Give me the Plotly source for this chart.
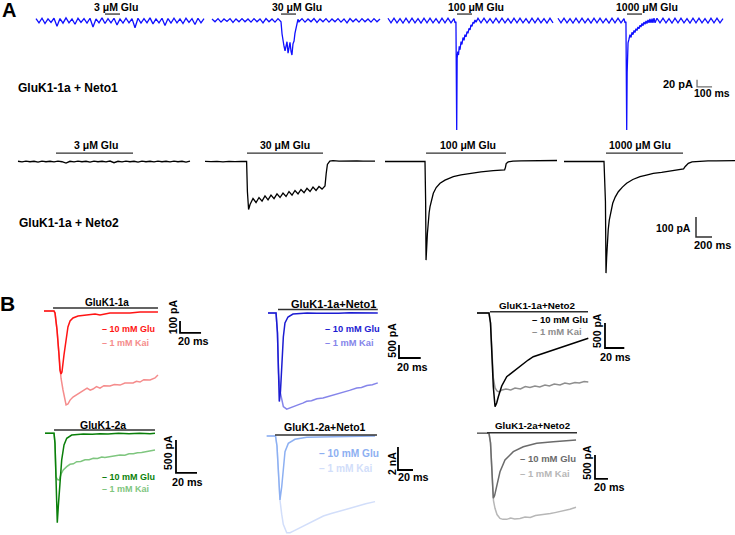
import plotly.graph_objects as go

W, H = 735, 535
FONT = "Liberation Sans, Arial, sans-serif"

# ======================= DATA =======================
# ---- Panel A, GluK1-1a + Neto1 (time in ms, current in pA) ----
A_LABELS = ["3 μM Glu", "30 μM Glu", "100 μM Glu", "1000 μM Glu"]
A_TOP_APP = [460, 560]                     # glutamate application (ms)
A_TOP_SCALE = [100, 20]                    # 100 ms, 20 pA

A1_DT = 20
A1_I = [4, -8, 5, -10, 3, -7, 5, -18, 4, -9, 6, -8, 3, -12, 5, -7, 4, -9, 5, -20, 3, -8, 6, -10, 4, -8, 5,
        -14, 3, -9, 5, -8, 4, -22, 5, -9, 4, -8, 6, -11, 3, -8, 5, -16, 4, -9, 5, -8, 3, -10, 5, -7, 4, -13,
        5, -8, 4]

A2_T = [0, 20, 40, 60, 80, 100, 120, 140, 160, 180, 200, 220, 240, 260, 280, 300, 320, 340, 360, 380, 400,
        420, 440,
        460, 467, 473, 480, 487, 493, 500, 507, 513, 520, 527, 533, 540, 547, 553, 560, 567, 573,
        580, 600, 620, 640, 660, 680, 700, 720, 740, 760, 780, 800, 820, 840, 860, 880, 900, 920, 940,
        960, 980, 1000, 1020, 1040, 1060, 1080, 1100, 1120]
A2_I = [3, -5, 4, -6, 3, -4, 4, -7, 3, -5, 4, -5, 3, -6, 4, -5, 3, -8, 4, -5, 3, -6, 4,
        -5, -40, -60, -75, -88, -70, -62, -95, -72, -64, -90, -100, -68, -60, -38, -20, -8, 2,
        -5, 4, -6, 3, -5, 4, -7, 3, -5, 4, -6, 3, -5, 4, -6, 3, -8, 4, -5, 3, -6, 4, -5, 3, -6, 4, -5, 3]

A3_T = [0, 20, 40, 60, 80, 100, 120, 140, 160, 180, 200, 220, 240, 260, 280, 300, 320, 340, 360, 380, 400,
        420, 440,
        447, 453, 456, 458, 461, 465, 470, 475, 480, 487, 493, 500, 507, 513, 520, 527, 533, 540, 547, 553,
        560, 567, 573, 580, 587,
        600, 620, 640, 660, 680, 700, 720, 740, 760, 780, 800, 820, 840, 860, 880, 900, 920, 940, 960,
        980, 1000, 1020, 1040, 1060, 1080, 1100]
A3_I = [5, -8, 5, -8, 4, -9, 5, -8, 5, -8, 4, -9, 5, -8, 5, -8, 4, -9, 5, -8, 5, -8, 4,
        -8, -5, -200, -314, -110, -90, -100, -75, -85, -62, -70, -50, -58, -42, -48, -33, -38, -24, -28,
        -14, -18, -6, -10, 0, -6,
        5, -8, 5, -8, 4, -9, 5, -8, 5, -8, 4, -9, 5, -8, 5, -8, 4, -9, 5, -8, 5, -8, 4, -9, 5, -8]

A4_T = [0, 20, 40, 60, 80, 100, 120, 140, 160, 180, 200, 220, 240, 260, 280, 300, 320, 340, 360, 380, 400,
        420, 440,
        447, 453, 456, 458, 461, 463, 467, 473, 480, 487, 493, 500, 507, 513, 520, 527, 533, 540, 547, 553,
        560, 567, 573, 580, 587, 593, 600, 607, 613, 620, 627, 633, 640, 647,
        660, 680, 700, 720, 740, 760, 780, 800, 820, 840, 860, 880, 900, 920, 940, 960, 980, 1000, 1020,
        1040, 1060, 1080, 1100]
A4_I = [5, -8, 5, -8, 4, -9, 5, -8, 5, -8, 4, -9, 5, -8, 5, -8, 4, -9, 5, -8, 5, -8, 4,
        -8, -5, -200, -314, -150, -110, -65, -55, -42, -50, -35, -42, -30, -36, -25, -30, -20, -25, -15,
        -20, -10, -16, -6, -12, -3, -10, 0, -8, 3, -8, 4, -8, 5, -8,
        5, -8, 5, -8, 4, -9, 5, -8, 5, -8, 4, -9, 5, -8, 5, -8, 4, -9, 5, -8, 5, -8, 4]

# ---- Panel A, GluK1-1a + Neto2 ----
A_BOT_APP = [[475, 1438], [525, 1475], [513, 1513], [525, 1488]]
A_BOT_SCALE = [200, 100]                   # 200 ms, 100 pA

B1_DT = 50
B1_I = [1, -2, 2, -1, 1, -3, 2, -1, 1, -2, 2, -1, -8, 1, -2, 2, -1, 1, -3, 2, -1, 1, -2, 2, -6, 1, -2, 2,
        -1, 1, -3, 2, -1, 1, -2, 2, -1, 1, -2, 2, -1, 1, -3, 2]

B2_T = [0, 75, 150, 225, 300, 375, 450, 520, 530, 545, 563, 600, 638, 675, 713, 750, 788, 825, 863, 900,
        938, 975, 1013, 1050, 1088, 1125, 1163, 1200, 1238, 1275, 1313, 1350, 1388, 1425, 1463, 1500,
        1515, 1530, 1560, 1600, 1675, 1750, 1825, 1900, 1975, 2050, 2125]
B2_I = [1, -1, 1, -2, 1, -1, 1, 0, -150, -240, -215, -185, -205, -180, -198, -172, -192, -168, -186, -162,
        -180, -158, -175, -150, -168, -145, -162, -140, -156, -134, -150, -128, -145, -125, -138, -122,
        -60, -15, 2, 4, 2, 3, 1, 3, 2, 3, 2]

B3_T = [0, 100, 200, 300, 400, 500, 508, 513, 520, 530, 541, 552, 563, 583, 604, 640, 688, 750, 800, 854,
        950, 1063, 1200, 1354, 1450, 1495, 1505, 1515, 1540, 1600, 1700, 1800, 1900, 2000, 2100, 2150]
B3_I = [0, 0, 1, 0, 0, 0, -200, -493, -440, -360, -293, -255, -226, -190, -159, -130, -109, -93, -84, -76,
        -67, -59, -52, -46, -44, -42, -30, -10, -2, 2, 3, 3, 4, 4, 5, 5]

B4_T = [0, 100, 200, 300, 400, 500, 518, 525, 533, 541, 553, 566, 588, 609, 640, 679, 730, 783, 860, 950,
        1030, 1116, 1220, 1325, 1400, 1471, 1495, 1513, 1535, 1554, 1600, 1700, 1800, 1900, 2000, 2100,
        2140]
B4_I = [0, 0, 1, 0, 0, 0, -200, -558, -480, -409, -340, -293, -245, -209, -178, -151, -128, -109, -90, -76,
        -68, -59, -54, -48, -44, -39, -37, -26, -15, -9, -2, 2, 3, 3, 4, 4, 4]

# ---- Panel B: 10 mM Glu vs 1 mM Kai ----
B_TITLES = ["GluK1-1a", "GluK1-1a+Neto1", "GluK1-1a+Neto2",
            "GluK1-2a", "GluK1-2a+Neto1", "GluK1-2a+Neto2"]
B_LEG = ["– 10 mM Glu", "– 1 mM Kai"]
B_SCALE_PA = [100, 500, 500, 500, 2000, 500]
B_SCALE_TXT = ["100 pA", "500 pA", "500 pA", "500 pA", "2 nA", "500 pA"]
B_SCALE_MS = 20
B_APP = [[8.6, 108.5], [9.2, 101], [13.5, 115], [8.6, 104.7], [11.1, 147], [15.4, 154]]

C1_GLU_T = [0, 9.5, 10.5, 12.4, 14.3, 15.2, 16.2, 17.1, 19, 21, 22.8, 24.8, 27.6, 32.4, 39, 44, 48.6,
            53.3, 58, 62.8, 72.4, 81.9, 91.4, 101, 108.5]
C1_GLU_I = [0, 0, -17, -158, -367, -492, -525, -508, -367, -225, -133, -83, -58, -42, -33, -28, -25, -33,
            -25, -17, -17, -17, -8, -8, -8]
C1_KAI_T = [0, 9.5, 10.5, 12.4, 14.3, 16.2, 18.1, 20, 21, 22.8, 24.8, 27.6, 30.5, 34.3, 37, 41, 44, 46.6,
            50, 53.3, 57, 62.8, 67, 72.4, 77, 84.8, 88, 91.4, 95, 101, 105.7, 108.5]
C1_KAI_I = [0, 0, -17, -158, -367, -560, -658, -742, -783, -775, -742, -717, -700, -675, -660, -642, -660,
            -650, -630, -642, -622, -625, -612, -617, -600, -600, -585, -592, -572, -575, -558, -533]

C2_GLU_T = [0, 7.4, 8.7, 9.7, 10.4, 11.5, 12.6, 14.1, 15.6, 18.4, 23, 30, 36, 45, 55, 65, 75, 85, 95, 101]
C2_GLU_I = [0, 0, -770, -2300, -3410, -3000, -1925, -924, -385, -154, -40, -15, 0, -10, 5, -8, 5, -6, 4, 0]
C2_KAI_T = [0, 7.4, 8.7, 9.7, 11, 12.6, 14.1, 17.2, 20.2, 23, 26, 29.4, 32, 35.6, 40, 45, 50.6, 55, 60,
            66.2, 70, 75, 81.6, 86, 91, 96, 101]
C2_KAI_I = [0, 0, -770, -2300, -3000, -3400, -3600, -3700, -3660, -3600, -3560, -3510, -3470, -3400,
            -3380, -3300, -3270, -3220, -3160, -3080, -3060, -2980, -2890, -2870, -2790, -2760, -2690]

C3_GLU_T = [0, 12.4, 14, 15.2, 16.9, 18.7, 20.4, 22.1, 25.6, 30.8, 37.6, 43, 48, 53, 58.3, 65, 72.2, 80,
            89.4, 98, 106.7, 115.3]
C3_GLU_I = [0, 0, -200, -675, -1475, -1874, -1800, -1674, -1460, -1274, -1174, -1090, -1006, -940, -874,
            -830, -774, -725, -674, -615, -560, -506]
C3_KAI_T = [0, 12.4, 14, 15.2, 16.9, 18.7, 20.7, 22.8, 25.9, 30, 35, 39.4, 45, 50, 54.9, 60, 65, 70.4, 75,
            80, 86, 91, 96, 101.5, 106, 111, 115.3]
C3_KAI_I = [0, 0, -200, -675, -1300, -1500, -1560, -1580, -1540, -1520, -1540, -1500, -1520, -1470,
            -1490, -1460, -1480, -1440, -1460, -1420, -1440, -1400, -1420, -1390, -1400, -1370, -1380]

C4_GLU_T = [0, 8.6, 9.5, 10.5, 11.7, 12.7, 13.6, 15.9, 18.1, 20.7, 25.4, 36.5, 45, 52.4, 60, 70, 80, 90,
            100, 104.7]
C4_GLU_I = [0, 0, -150, -660, -1356, -1100, -909, -403, -177, -76, -26, -11, -15, -5, -12, 0, -8, 0, -6, 0]
C4_KAI_T = [0, 8.6, 9.5, 10.5, 11.9, 13.6, 15.2, 17.4, 20.7, 23.8, 27, 30.2, 34, 38.1, 42, 46, 50, 54, 57,
            61.9, 66, 71.4, 76, 80, 84.1, 88, 92, 95.2, 100, 104.7]
C4_KAI_I = [0, 0, -150, -660, -700, -708, -620, -556, -506, -470, -462, -430, -428, -400, -400, -379, -382,
            -360, -368, -353, -345, -330, -332, -310, -310, -295, -292, -280, -270, -252]

C5_GLU_T = [0, 11.7, 13.7, 15.7, 17.7, 20, 22.1, 24.4, 28.8, 37.7, 53.3, 75, 97.7, 120, 144.4]
C5_GLU_I = [0, 0, -870, -3480, -5570, -4440, -2670, -1370, -640, -290, -115, -80, -60, -30, 0]
C5_KAI_T = [0, 11.7, 13.7, 15.7, 17.7, 20, 22.1, 26.7, 31.1, 35.5, 44, 53.3, 64, 75.5, 86, 97.7, 109,
            119.9, 132, 144.4]
C5_KAI_I = [0, 0, -870, -3480, -5570, -6800, -7690, -8410, -8410, -8270, -8000, -7690, -7300, -6960,
            -6750, -6530, -6300, -6090, -5900, -5710]

C6_GLU_T = [0, 18.5, 20.8, 23.1, 25.1, 27, 30.3, 35.4, 43.1, 55.9, 71.3, 91.9, 117.5, 135, 152.5]
C6_GLU_I = [0, 0, -200, -950, -1350, -1300, -1110, -800, -555, -382, -279, -208, -175, -160, -140]
C6_KAI_T = [0, 18.5, 20.8, 23.1, 25.4, 27.7, 30.8, 35.4, 40, 45.7, 52, 58, 66.2, 74, 82, 90, 97, 105,
            113, 120, 127.8, 135, 143, 152.5]
C6_KAI_I = [0, 0, -200, -950, -1400, -1560, -1690, -1770, -1790, -1790, -1760, -1780, -1770, -1740,
            -1750, -1710, -1700, -1690, -1670, -1650, -1630, -1610, -1580, -1540]

# ======================= LAYOUT / STYLE =======================
# per-panel pixel calibration: (x-pixel of t=0, ms per px, y-pixel of 0 pA, pA per px)
CAL = {
    1: (36, 6.667, 20, 2.857), 2: (212, 6.667, 20, 2.857),
    3: (388, 6.667, 20, 2.857), 4: (558, 6.667, 20, 2.857),
    5: (18, 12.5, 161.5, 5.0), 6: (205, 12.5, 161.5, 5.0),
    7: (385, 12.5, 161.5, 5.0), 8: (564, 12.5, 161.5, 5.0),
    9: (44, 0.952, 311, 8.33), 10: (268, 0.92, 313, 38.5),
    11: (477, 1.036, 313, 20.0), 12: (45, 0.952, 433.3, 15.15),
    13: (266.7, 1.333, 436, 87.0), 14: (477, 1.54, 433.3, 20.8),
}

BLUE = "#1010ff"
BAR = "#303030"
C_GLU = ["#ff1414", "#1c1cd2", "#000000", "#0a7f0a", "#8db0f2", "#6b6b6b"]
C_KAI = ["#f58c8c", "#8585ea", "#8e8e8e", "#7fc67f", "#d2defa", "#b7b7b7"]

fig = go.Figure()
layout = dict(width=W, height=H, margin=dict(l=0, r=0, t=0, b=0, pad=0), autosize=False,
              paper_bgcolor="white", plot_bgcolor="rgba(0,0,0,0)", showlegend=False)
for k, (tx, sx, by, sy) in CAL.items():
    xs = "" if k == 1 else str(k)
    layout["xaxis" + xs] = dict(domain=[0, 1], range=[(0 - tx) * sx, (W - tx) * sx], visible=False,
                                fixedrange=True, anchor="y" + xs)
    layout["yaxis" + xs] = dict(domain=[0, 1], range=[-(H - by) * sy, by * sy], visible=False,
                                fixedrange=True, anchor="x" + xs)
fig.update_layout(**layout)

annots = []


def ax(k):
    return ("x", "y") if k == 1 else ("x" + str(k), "y" + str(k))


def line(k, x, y, color, width, **kw):
    xa, ya = ax(k)
    fig.add_trace(go.Scatter(x=x, y=y, mode="lines", xaxis=xa, yaxis=ya, hoverinfo="skip",
                             line=dict(color=color, width=width, shape="linear"), **kw))


def uniform(k, dt, y, color, width):
    xa, ya = ax(k)
    fig.add_trace(go.Scatter(x0=0, dx=dt, y=y, mode="lines", xaxis=xa, yaxis=ya, hoverinfo="skip",
                             line=dict(color=color, width=width)))


def text(k, x, y, s, size, color="black", xanchor="center", angle=0):
    xa, ya = ax(k)
    annots.append(dict(x=x, y=y, xref=xa, yref=ya, text=s, showarrow=False, xanchor=xanchor,
                       yanchor="middle", textangle=angle,
                       font=dict(family=FONT, size=size, color=color, weight="bold")))


def ptext(px, py, s, size, xanchor="center"):
    annots.append(dict(x=px / W, y=1 - py / H, xref="paper", yref="paper", text=s, showarrow=False,
                       xanchor=xanchor, yanchor="middle",
                       font=dict(family=FONT, size=size, color="black", weight="bold")))


def scalebar(k, x0, y0, ms, pa, color="black", width=1.6):
    line(k, [x0, x0, x0 + ms], [y0 + pa, y0, y0], color, width)


# ---- Panel A top (Neto1, blue) ----
uniform(1, A1_DT, A1_I, BLUE, 1.3)
line(2, A2_T, A2_I, BLUE, 1.3)
line(3, A3_T, A3_I, BLUE, 1.3)
line(4, A4_T, A4_I, BLUE, 1.3)
a_top_text_x = [533, 567, 587, 593]
for i, k in enumerate([1, 2, 3, 4]):
    line(k, A_TOP_APP, [17, 17], BAR, 1.3)
    text(k, a_top_text_x[i], 37, A_LABELS[i], 10.5)
scalebar(4, 927, -191, A_TOP_SCALE[0], A_TOP_SCALE[1], "#707070", 1.3)
text(4, 913, -182, "20 pA", 11, xanchor="right")
text(4, 1027, -209, "100 ms", 10.5)

# ---- Panel A bottom (Neto2, black) ----
uniform(5, B1_DT, B1_I, "black", 1.4)
line(6, B2_T, B2_I, "black", 1.3)
line(7, B3_T, B3_I, "black", 1.3)
line(8, B4_T, B4_I, "black", 1.3)
a_bot_text_x = [975, 1000, 1038, 950]
for i, k in enumerate([5, 6, 7, 8]):
    line(k, A_BOT_APP[i], [42, 42], BAR, 1.3)
    text(k, a_bot_text_x[i], 83, A_LABELS[i], 10.5)
scalebar(8, 1650, -378, A_BOT_SCALE[0], A_BOT_SCALE[1], "#303030", 1.5)
text(8, 1612, -333, "100 pA", 10.5, xanchor="right")
text(8, 1850, -418, "200 ms", 11)

# ---- Panel B ----
B_DATA = [(C1_GLU_T, C1_GLU_I, C1_KAI_T, C1_KAI_I), (C2_GLU_T, C2_GLU_I, C2_KAI_T, C2_KAI_I),
          (C3_GLU_T, C3_GLU_I, C3_KAI_T, C3_KAI_I), (C4_GLU_T, C4_GLU_I, C4_KAI_T, C4_KAI_I),
          (C5_GLU_T, C5_GLU_I, C5_KAI_T, C5_KAI_I), (C6_GLU_T, C6_GLU_I, C6_KAI_T, C6_KAI_I)]
bar_y = [25, 135, 26, 50, 87, 12]
title_pos = [(60, 67, 10), (59.8, 346, 11), (62.2, 160, 9.8), (55.2, 126, 10.5), (77.7, 783, 10.5),
             (84.7, 152, 9.7)]
leg_pos = [(53.3, -150, -267, 9), (50.6, -616, -1155, 9.3), (54.9, -120, -360, 9.5),
           (52.4, -662, -844, 9), (67, -1479, -2784, 10.2), (63.1, -514, -826, 9.5)]
sb_pos = [(129.5, -183), (120.5, -1732), (132.6, -700), (124.7, -601), (175, -2957), (181.7, -950)]
sb_vtxt = [(122.5, -47), (113.8, -1040), (124.3, -340), (117.1, -298), (167, -2349), (169.4, -614)]
sb_htxt = [(142, -250), (132.9, -2067), (143.7, -880), (135.2, -737), (195.6, -3567), (203.3, -1117)]

for j in range(6):
    k = 9 + j
    gt, gi, kt, ki = B_DATA[j]
    line(k, kt, ki, C_KAI[j], 1.5)
    line(k, gt, gi, C_GLU[j], 1.5)
    line(k, B_APP[j], [bar_y[j], bar_y[j]], BAR, 1.4)
    tx, ty, ts = title_pos[j]
    text(k, tx, ty, B_TITLES[j], ts)
    lx, gy, kyy, ls = leg_pos[j]
    text(k, lx, gy, B_LEG[0], ls, C_GLU[j], "left")
    text(k, lx, kyy, B_LEG[1], ls, C_KAI[j], "left")
    sx0, sy0 = sb_pos[j]
    scalebar(k, sx0, sy0, B_SCALE_MS, B_SCALE_PA[j], "black", 1.8)
    vx, vy = sb_vtxt[j]
    text(k, vx, vy, B_SCALE_TXT[j], 10.5, angle=-90)
    hx, hy = sb_htxt[j]
    text(k, hx, hy, "20 ms", 10.8)

# ---- Panel letters and row labels ----
ptext(9, 10, "A", 20)
ptext(8, 303, "B", 21)
ptext(16, 88, "GluK1-1a + Neto1", 12, "left")
ptext(17, 223, "GluK1-1a + Neto2", 12, "left")

fig.update_layout(annotations=annots)
fig.write_html("out.html", config={"displayModeBar": False},
               post_script="document.body.style.margin='0';document.body.style.overflow='hidden';")
